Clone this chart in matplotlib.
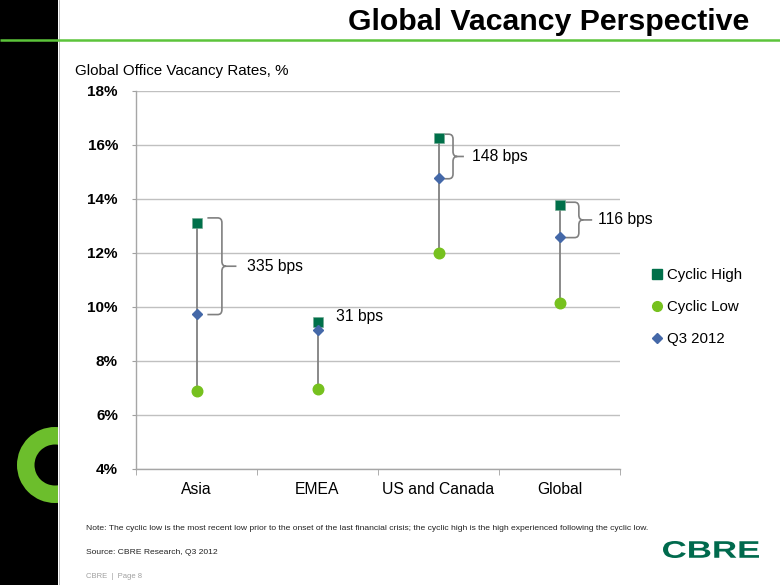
import matplotlib
matplotlib.use("Agg")
import matplotlib.pyplot as plt
from matplotlib.patches import Rectangle, Wedge
from matplotlib.path import Path
from matplotlib.patches import PathPatch
from matplotlib.lines import Line2D
from matplotlib.textpath import TextPath
from matplotlib.font_manager import FontProperties
from matplotlib.transforms import Affine2D

plt.rcParams['font.family'] = ['Liberation Sans', 'DejaVu Sans']

# ---- data ----
categories = ["Asia", "EMEA", "US and Canada", "Global"]
cyclic_high = [13.10, 9.45, 16.27, 13.76]
cyclic_low = [6.90, 6.95, 12.00, 10.16]
q3_2012 = [9.75, 9.14, 14.78, 12.60]
bps_labels = ["335 bps", "31 bps", "148 bps", "116 bps"]
yticks = [4, 6, 8, 10, 12, 14, 16, 18]
ytick_labels = ["4%", "6%", "8%", "10%", "12%", "14%", "16%", "18%"]

HIGH_C = "#00704A"
LOW_C = "#76C11E"
Q3_C = "#4468A8"
GRID_C = "#C0C0C0"
LINE_C = "#808080"

fig = plt.figure(figsize=(7.8, 5.85), dpi=100)

# ---- background / decoration (pixel coordinates) ----
bg = fig.add_axes([0, 0, 1, 1], zorder=-1)
bg.set_xlim(0, 780)
bg.set_ylim(585, 0)
bg.axis("off")
bar = Rectangle((0, 0), 58, 585, facecolor="black", edgecolor="none")
bg.add_patch(bar)
bg.plot([58.5, 58.5], [0, 585], color="#B0B0B0", lw=0.6)
ring = Wedge((55, 465), 38, 0, 360, width=17.5, facecolor="#6CBE2C", edgecolor="none")
bg.add_patch(ring)
ring.set_clip_path(bar)
bg.plot([0, 780], [40, 40], color="#5CC43A", lw=1.8, solid_capstyle="butt")
bg.text(749, 22, "Global Vacancy Perspective", ha="right", va="center",
        fontsize=21.8, fontweight="bold", color="black")
bg.text(75, 71, "Global Office Vacancy Rates, %", ha="left", va="center",
        fontsize=10.9, color="black")
bg.text(86, 529, "Note: The cyclic low is the most recent low prior to the onset of the last financial crisis; "
        "the cyclic high is the high experienced following the cyclic low.",
        ha="left", va="center", fontsize=6.1, color="#222222")
bg.text(86, 553, "Source: CBRE Research, Q3 2012", ha="left", va="center",
        fontsize=6.1, color="#222222")
bg.text(86, 576, "CBRE  |  Page 8", ha="left", va="center", fontsize=5.5, color="#A0A0A0")

# CBRE logo as a horizontally stretched text path
tp = TextPath((0, 0), "CBRE", size=23.7,
              prop=FontProperties(family="Liberation Sans", weight="bold"))
ext = tp.get_extents()
sx = 96.0 / ext.width
sy = 17.0 / ext.height
logo_tr = Affine2D().translate(-ext.x0, -ext.y0).scale(sx, -sy).translate(663, 558) + bg.transData
bg.add_patch(PathPatch(tp, facecolor="#006A4D", edgecolor="none", transform=logo_tr))

# ---- main chart ----
ax = fig.add_axes([136 / 780, 1 - 469 / 585, 484 / 780, 378 / 585])
ax.patch.set_alpha(0)
x = list(range(len(categories)))
ax.set_xlim(-0.5, len(categories) - 0.5)
ax.set_ylim(4, 18)

ax.set_yticks(yticks)
ax.set_yticklabels(ytick_labels, fontsize=11, fontweight="bold")
ax.yaxis.grid(True, color=GRID_C, lw=1)
ax.set_axisbelow(True)
ax.set_xticks(x)
ax.set_xticklabels(categories, fontsize=11.3)
ax.set_xticks([i - 0.5 for i in range(len(categories) + 1)], minor=True)
ax.tick_params(axis="x", which="major", length=0, pad=9)
ax.tick_params(axis="x", which="minor", length=4, color="#A0A0A0")
ax.tick_params(axis="y", length=3, color="#A0A0A0", pad=10)
for s in ["top", "right"]:
    ax.spines[s].set_visible(False)
for s in ["left", "bottom"]:
    ax.spines[s].set_color("#A6A6A6")
    ax.spines[s].set_linewidth(1)

ax.vlines(x, cyclic_low, cyclic_high, color=LINE_C, lw=1.3, zorder=2)
ax.plot(x, cyclic_high, ls="none", marker="s", ms=7.2, color=HIGH_C,
        mec="#6FA88F", mew=0.4, label="Cyclic High", zorder=3)
ax.plot(x, cyclic_low, ls="none", marker="o", ms=7.6, color=LOW_C,
        mec=LOW_C, label="Cyclic Low", zorder=3)
ax.plot(x, q3_2012, ls="none", marker="D", ms=5.2, color=Q3_C,
        mec=Q3_C, label="Q3 2012", zorder=3)


def brace(x0, x1, x2, yt, yb, c=0.035, d=0.18):
    ym = (yt + yb) / 2
    verts = [(x0, yt), (x1 - c, yt), (x1, yt), (x1, yt - d),
             (x1, ym + d), (x1, ym), (x1 + c, ym), (x2, ym),
             (x1 + c, ym), (x1, ym), (x1, ym - d),
             (x1, yb + d), (x1, yb), (x1 - c, yb), (x0, yb)]
    codes = [Path.MOVETO, Path.LINETO, Path.CURVE3, Path.CURVE3,
             Path.LINETO, Path.CURVE3, Path.CURVE3, Path.LINETO,
             Path.MOVETO, Path.CURVE3, Path.CURVE3,
             Path.LINETO, Path.CURVE3, Path.CURVE3, Path.LINETO]
    ax.add_patch(PathPatch(Path(verts, codes), facecolor="none",
                           edgecolor=LINE_C, lw=1.2, zorder=2))
    return ym


brace_offsets = [(0.09, 0.21, 0.33, 0.20), None, (0.05, 0.12, 0.21, 0.13), (0.05, 0.16, 0.27, 0.12)]
label_offsets = [0.42, 0.15, 0.28, 0.32]
for i in x:
    if brace_offsets[i] is not None:
        b0, b1, b2, pad = brace_offsets[i]
        ym = brace(i + b0, i + b1, i + b2, cyclic_high[i] + pad, q3_2012[i] - 0.03)
    else:
        ym = cyclic_high[i] + 0.18
    ax.text(i + label_offsets[i], ym, bps_labels[i], ha="left", va="center",
            fontsize=11.3, color="black")

handles = [
    Line2D([], [], ls="none", marker="s", ms=6.5, color=HIGH_C),
    Line2D([], [], ls="none", marker="o", ms=7, color=LOW_C),
    Line2D([], [], ls="none", marker="D", ms=5, color=Q3_C),
]
fig.legend(handles, ["Cyclic High", "Cyclic Low", "Q3 2012"],
           loc="center left", bbox_to_anchor=(645 / 780, 1 - 307 / 585),
           frameon=False, fontsize=10.8, handlelength=0.6, handletextpad=0.35,
           labelspacing=1.2, borderpad=0)

fig.savefig("out.png", dpi=100)
